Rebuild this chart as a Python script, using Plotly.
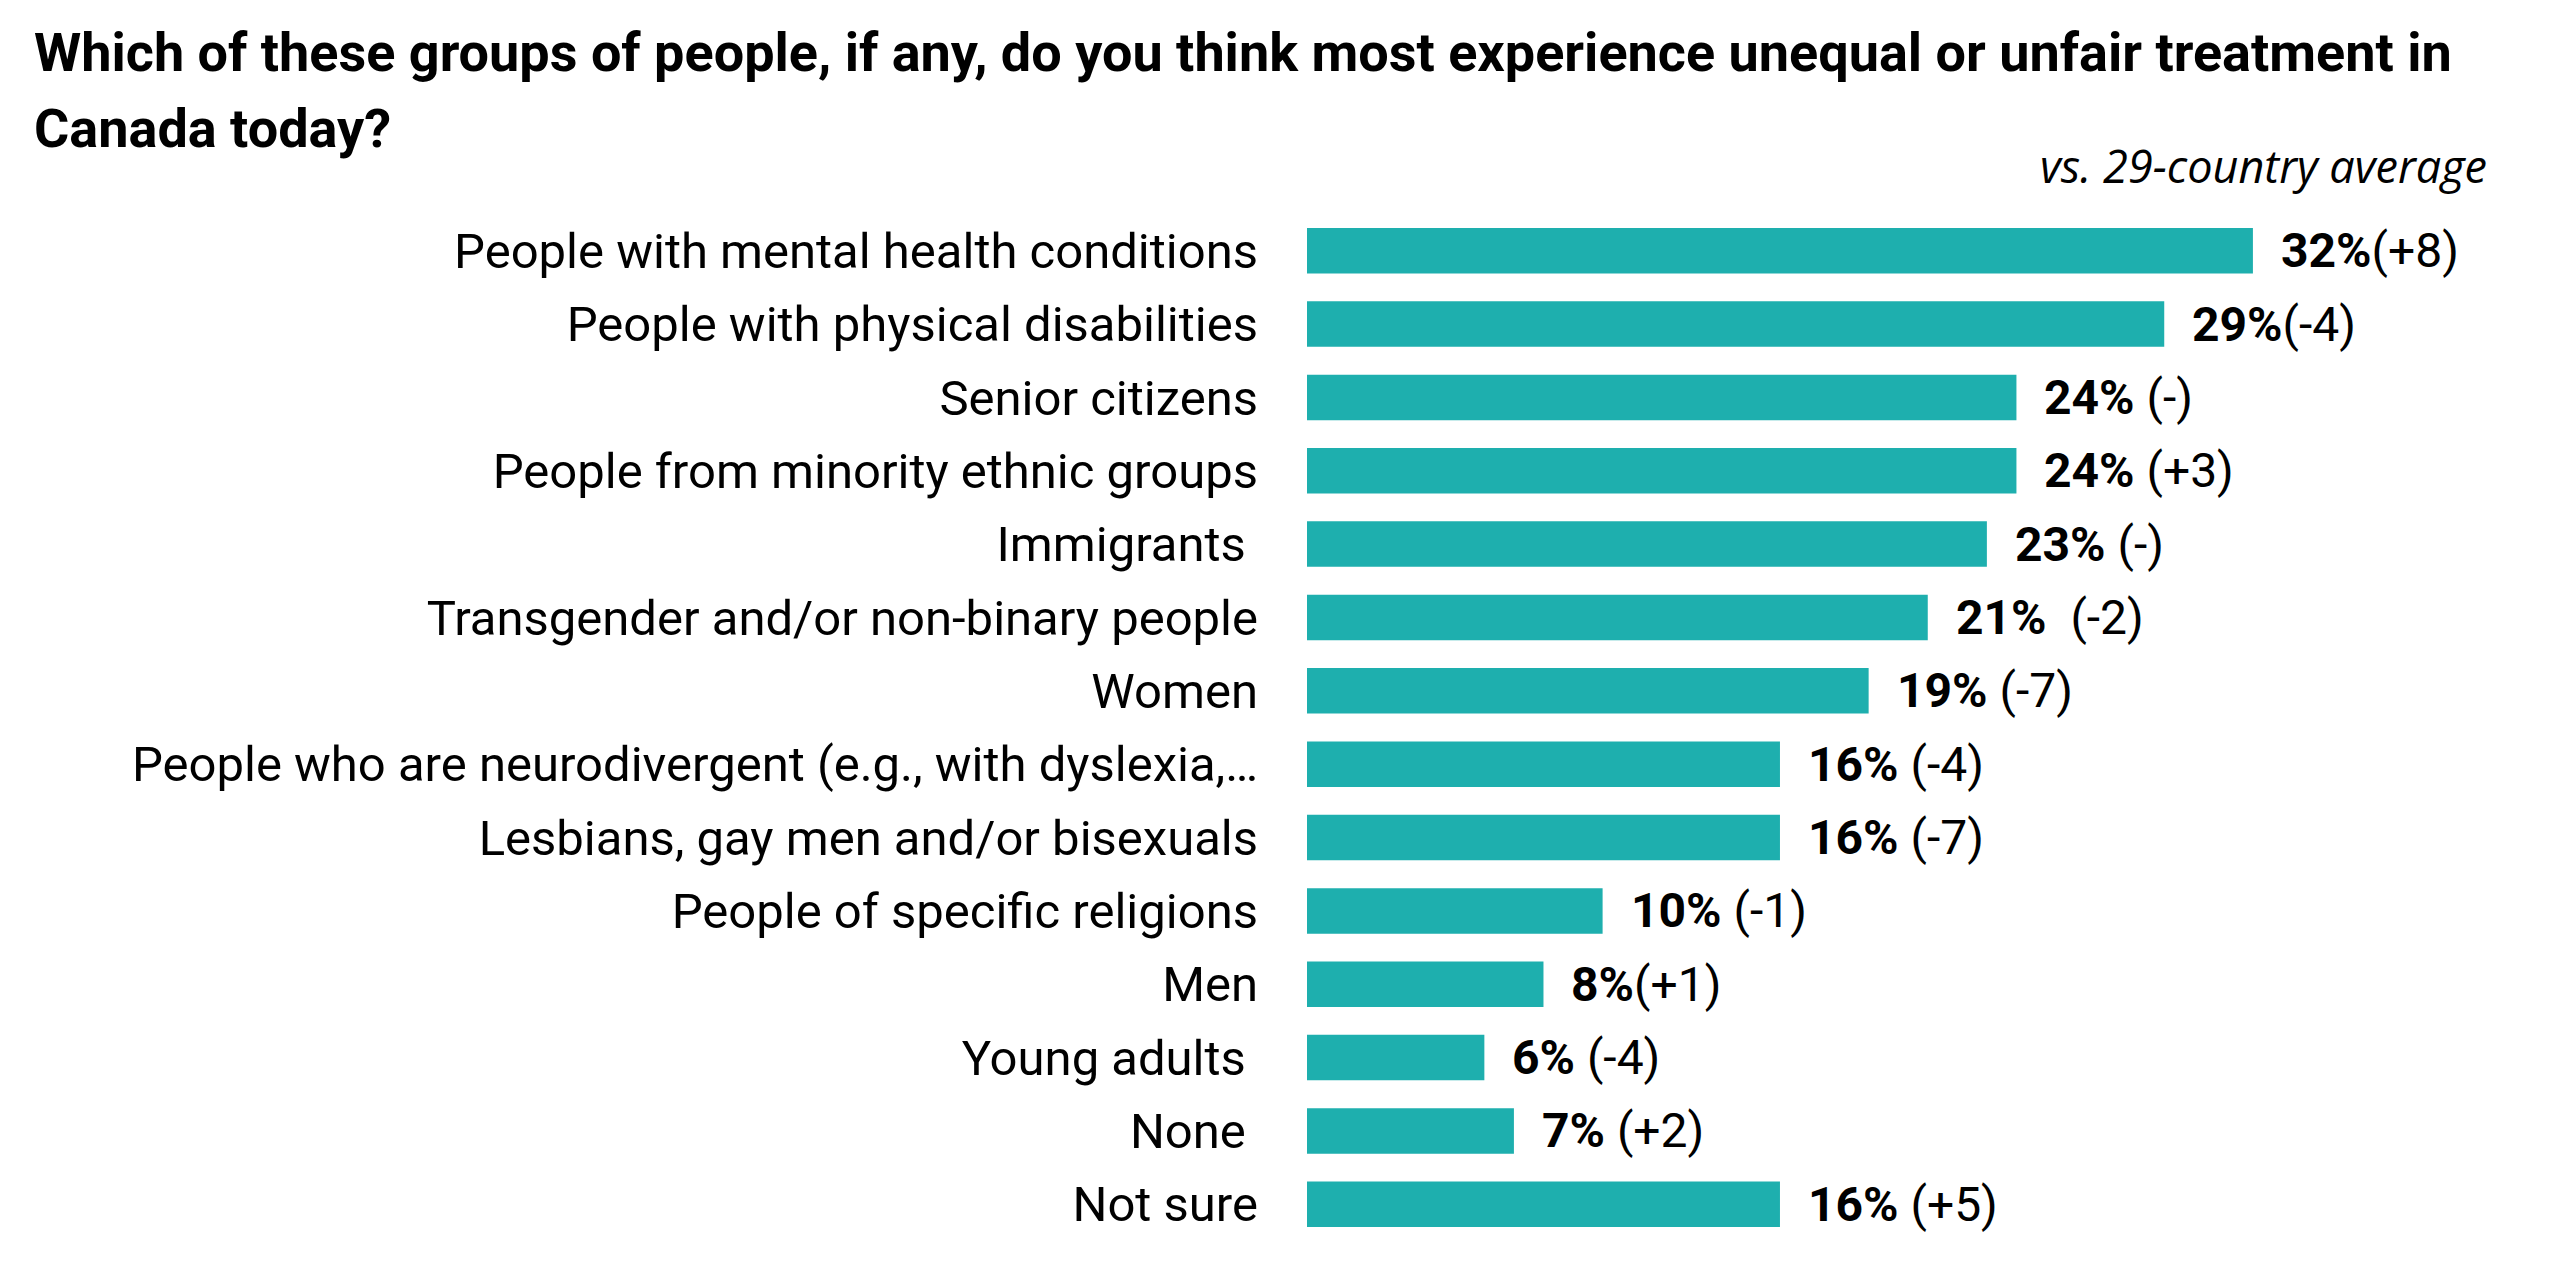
import plotly.graph_objects as go

# data
groups = [
    "People with mental health conditions",
    "People with physical disabilities",
    "Senior citizens",
    "People from minority ethnic groups",
    "Immigrants\u00a0",
    "Transgender and/or non-binary people",
    "Women",
    "People who are neurodivergent (e.g., with dyslexia,\u2026",
    "Lesbians, gay men and/or bisexuals",
    "People of specific religions",
    "Men",
    "Young adults\u00a0",
    "None\u00a0",
    "Not sure",
]
canada_pct = [32, 29, 24, 24, 23, 21, 19, 16, 16, 10, 8, 6, 7, 16]
vs_average = ["(+8)", "(-4)", " (-)", " (+3)", " (-)", "\u00a0 (-2)", " (-7)",
              " (-4)", " (-7)", " (-1)", "(+1)", " (-4)", " (+2)", " (+5)"]

title_lines = [
    "Which of these groups of people, if any, do you think most experience unequal or unfair treatment in",
    "Canada today?",
]
subtitle = "vs. 29-country average"

# page geometry (pixels); the page body adds an 8px margin all round
OFF = 8
W, H = 2559 - 2 * OFF, 1281 - 2 * OFF
ML, MT = 1307 - OFF, 214 - OFF
MR = W - (2549 - OFF)
MB = H - (1241 - OFF)
PX_PER_PT = 29.56
plot_w = W - ML - MR
plot_h = H - MT - MB
x_max = plot_w / PX_PER_PT

TEAL = "#1EAFAE"
FONT = "Roboto"


def px_x(px):
    return (px - OFF - ML) / plot_w


def px_y(px):
    return (H - MB - (px - OFF)) / plot_h


fig = go.Figure()
fig.add_trace(go.Bar(
    x=canada_pct, y=groups, orientation="h",
    marker=dict(color=TEAL, line=dict(width=0)),
    hoverinfo="x+y",
))

annotations = []
for g, v, d in zip(groups, canada_pct, vs_average):
    annotations.append(dict(
        x=v, y=g, xref="x", yref="y", xanchor="left", yanchor="middle",
        xshift=26, showarrow=False,
        text="<b>%d%%</b>%s" % (v, d.replace(" ", "\u00a0")),
        font=dict(family=FONT, size=48, color="#000"),
    ))

for line, ypx in zip(title_lines, [53, 129]):
    annotations.append(dict(
        x=px_x(32), y=px_y(ypx), xref="paper", yref="paper",
        xanchor="left", yanchor="middle", showarrow=False,
        text="<b>%s</b>" % line,
        font=dict(family=FONT, size=54, color="#000"),
    ))
annotations.append(dict(
    x=px_x(2489), y=px_y(166), xref="paper", yref="paper",
    xanchor="right", yanchor="middle", showarrow=False,
    text="<i>%s</i>" % subtitle,
    font=dict(family="Open Sans", size=45, color="#000"),
))

fig.update_layout(
    width=W, height=H,
    margin=dict(l=ML, r=MR, t=MT, b=MB, pad=0),
    paper_bgcolor="white", plot_bgcolor="white",
    bargap=0.38,
    showlegend=False,
    annotations=annotations,
    font=dict(family=FONT, color="#000"),
)
fig.update_xaxes(range=[0, x_max], visible=False, fixedrange=True)
fig.update_yaxes(
    range=[len(groups) - 0.5, -0.5], showgrid=False, zeroline=False,
    showline=False, ticks="", ticklabelstandoff=48,
    tickfont=dict(family=FONT, size=49, color="#000"),
    automargin=False, fixedrange=True,
)

fig.write_html("out.html")
